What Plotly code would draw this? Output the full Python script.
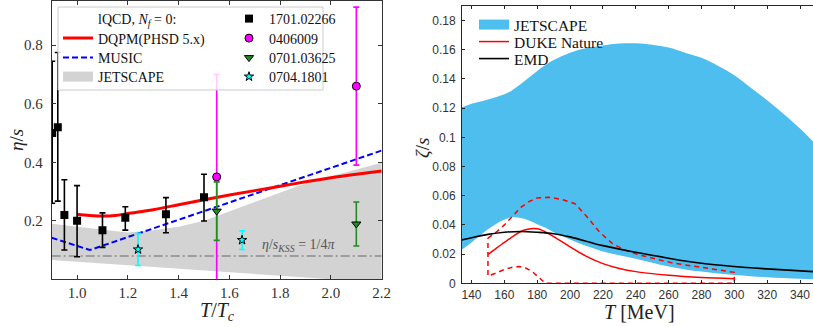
import plotly.graph_objects as go

W, H = 813, 327

# ---------------- left panel data (eta/s vs T/Tc) ----------------
dqpm_x = [1.0, 1.05, 1.1, 1.15, 1.2, 1.3, 1.4, 1.5, 1.6, 1.7, 1.8, 1.9, 2.0, 2.1, 2.2]
dqpm_y = [0.222, 0.218, 0.216, 0.218, 0.225, 0.238, 0.255, 0.272, 0.288, 0.303, 0.318, 0.333, 0.347, 0.359, 0.370]

music_x = [0.9, 0.95, 1.0, 1.05, 2.2]
music_y = [0.142, 0.128, 0.113, 0.100, 0.440]

jet_x = [0.9, 1.0, 1.1, 1.2, 1.3, 1.4, 1.5, 1.6, 1.7, 1.8, 1.9, 2.0, 2.1, 2.2]
jet_hi = [0.190, 0.180, 0.168, 0.160, 0.168, 0.180, 0.200, 0.232, 0.265, 0.298, 0.328, 0.352, 0.376, 0.398]
jet_lo = [0.066, 0.060, 0.054, 0.048, 0.042, 0.036, 0.030, 0.024, 0.018, 0.012, 0.006, 0.0, 0.0, 0.0]

kss_x = [0.9, 2.2]
kss_y = [0.0796, 0.0796]

lqcd_x = [0.902, 0.924, 0.95, 1.0, 1.1, 1.19, 1.35, 1.5]
lqcd_y = [0.50, 0.52, 0.22, 0.20, 0.168, 0.21, 0.222, 0.28]
lqcd_ep = [0.245, 0.255, 0.12, 0.12, 0.059, 0.038, 0.057, 0.079]
lqcd_em = [0.240, 0.253, 0.12, 0.123, 0.059, 0.042, 0.063, 0.081]

mag_x = [1.55, 2.10]
mag_y = [0.35, 0.66]
mag_ep = [0.35, 0.27]
mag_em = [0.36, 0.27]

grn_x = [1.55, 2.10]
grn_y = [0.233, 0.189]
grn_e = [0.10, 0.075]

cyn_x = [1.24, 1.65]
cyn_y = [0.102, 0.134]
cyn_e = [0.055, 0.032]

left_xticks = [1.0, 1.2, 1.4, 1.6, 1.8, 2.0, 2.2]
left_xtext = ["1.0", "1.2", "1.4", "1.6", "1.8", "2.0", "2.2"]
left_yticks = [0.2, 0.4, 0.6, 0.8]
left_ytext = ["0.2", "0.4", "0.6", "0.8"]

# ---------------- right panel data (zeta/s vs T) ----------------
band_T = [134, 140, 150, 160, 165, 170, 175, 180, 185, 190, 200, 210, 220, 230, 240, 250, 260,
          270, 280, 290, 300, 310, 320, 330, 340, 348]
band_hi = [0.1205, 0.123, 0.126, 0.1295, 0.1325, 0.1365, 0.141, 0.1455, 0.1495, 0.153, 0.158,
           0.1612, 0.163, 0.1643, 0.1645, 0.1635, 0.1615, 0.158, 0.1545, 0.149, 0.1425, 0.134,
           0.1255, 0.116, 0.106, 0.097]
band_lo = [0.023, 0.028, 0.037, 0.0437, 0.0452, 0.0447, 0.043, 0.0405, 0.038, 0.035, 0.030,
           0.0255, 0.0218, 0.0192, 0.0168, 0.014, 0.0115, 0.0095, 0.008, 0.0067, 0.0057,
           0.0049, 0.0042, 0.0036, 0.0031, 0.0028]

emd_T = [134, 140, 150, 160, 170, 180, 190, 200, 220, 240, 260, 280, 300, 320, 348]
emd_y = [0.0297, 0.0312, 0.0335, 0.035, 0.0355, 0.035, 0.034, 0.0318, 0.0258, 0.0213,
         0.0172, 0.0137, 0.0115, 0.0099, 0.008]

duke_T = [150, 155, 160, 165, 170, 175, 178, 182, 190, 200, 210, 220, 230, 240, 260, 280, 300]
duke_y = [0.0198, 0.024, 0.028, 0.032, 0.0355, 0.0372, 0.0375, 0.0368, 0.032, 0.025, 0.0185,
          0.0135, 0.0102, 0.008, 0.0055, 0.004, 0.0032]

duke_hi_T = [150, 155, 160, 165, 170, 175, 180, 187, 195, 203, 210, 218, 226, 234, 242, 262, 283, 300]
duke_hi = [0.031, 0.035, 0.040, 0.046, 0.052, 0.056, 0.0585, 0.059, 0.0575, 0.0545, 0.046,
           0.035, 0.027, 0.0225, 0.0195, 0.014, 0.0103, 0.0075]
duke_lo_T = [150, 155, 160, 165, 169, 173, 177, 181, 185, 300]
duke_lo = [0.005, 0.007, 0.0095, 0.011, 0.0115, 0.0105, 0.008, 0.004, 0.0, 0.0]

right_xticks = [140, 160, 180, 200, 220, 240, 260, 280, 300, 320, 340]
right_xtext = ["140", "160", "180", "200", "220", "240", "260", "280", "300", "320", "340"]
right_yticks = [0, 0.02, 0.04, 0.06, 0.08, 0.10, 0.12, 0.14, 0.16, 0.18]
right_ytext = ["0", "0.02", "0.04", "0.06", "0.08", "0.1", "0.12", "0.14", "0.16", "0.18"]

SERIF = "Liberation Serif"
SANS = "Liberation Sans"

fig = go.Figure()

# ---- left panel traces ----
fig.add_trace(go.Scatter(x=jet_x, y=jet_lo, mode="lines", line=dict(width=0),
                         showlegend=False, hoverinfo="skip", xaxis="x", yaxis="y"))
fig.add_trace(go.Scatter(x=jet_x, y=jet_hi, mode="lines", line=dict(width=0),
                         fill="tonexty", fillcolor="#d3d3d3", showlegend=False,
                         xaxis="x", yaxis="y"))
fig.add_trace(go.Scatter(x=kss_x, y=kss_y, mode="lines",
                         line=dict(color="#8c8c8c", width=1.6, dash="9px,3px,2px,3px"),
                         showlegend=False, xaxis="x", yaxis="y"))
fig.add_trace(go.Scatter(x=music_x, y=music_y, mode="lines",
                         line=dict(color="#0000ff", width=2, dash="6px,3px"),
                         showlegend=False, xaxis="x", yaxis="y"))
fig.add_trace(go.Scatter(x=dqpm_x, y=dqpm_y, mode="lines", line=dict(color="#ff0000", width=3),
                         line_shape="spline", showlegend=False, xaxis="x", yaxis="y"))

fig.add_trace(go.Scatter(x=lqcd_x, y=lqcd_y, mode="markers",
                         marker=dict(symbol="square", size=8, color="black"),
                         error_y=dict(type="data", array=lqcd_ep, arrayminus=lqcd_em,
                                      color="black", thickness=1.6, width=3),
                         showlegend=False, xaxis="x", yaxis="y"))
fig.add_trace(go.Scatter(x=mag_x, y=mag_y, mode="markers",
                         marker=dict(symbol="circle", size=8, color="#ff00ff",
                                     line=dict(color="black", width=1)),
                         error_y=dict(type="data", array=mag_ep, arrayminus=mag_em,
                                      color="#ff00ff", thickness=1.6, width=3),
                         showlegend=False, xaxis="x", yaxis="y"))
fig.add_trace(go.Scatter(x=grn_x, y=grn_y, mode="markers",
                         marker=dict(symbol="triangle-down", size=8, color="#228b22",
                                     line=dict(color="black", width=1)),
                         error_y=dict(type="data", array=grn_e, color="#228b22",
                                      thickness=1.6, width=3),
                         showlegend=False, xaxis="x", yaxis="y"))
fig.add_trace(go.Scatter(x=cyn_x, y=cyn_y, mode="markers",
                         marker=dict(symbol="star", size=7, color="#00ffff",
                                     line=dict(color="black", width=1)),
                         error_y=dict(type="data", array=cyn_e, color="#00ffff",
                                      thickness=1.6, width=3),
                         showlegend=False, xaxis="x", yaxis="y"))

# ---- right panel traces ----
fig.add_trace(go.Scatter(x=band_T, y=band_lo, mode="lines", line=dict(width=0, shape="spline"),
                         showlegend=False, hoverinfo="skip", xaxis="x2", yaxis="y2"))
fig.add_trace(go.Scatter(x=band_T, y=band_hi, mode="lines", line=dict(width=0, shape="spline"),
                         fill="tonexty", fillcolor="#4dbeee", showlegend=False,
                         xaxis="x2", yaxis="y2"))
dash_x = duke_hi_T + duke_lo_T[::-1] + duke_hi_T[:1]
dash_y = duke_hi + duke_lo[::-1] + duke_hi[:1]
fig.add_trace(go.Scatter(x=dash_x, y=dash_y, mode="lines",
                         line=dict(color="#ff0000", width=1.5, dash="5px,4px"),
                         showlegend=False, xaxis="x2", yaxis="y2"))
fig.add_trace(go.Scatter(x=duke_T, y=duke_y, mode="lines",
                         line=dict(color="#ff0000", width=1.5, shape="spline"),
                         showlegend=False, xaxis="x2", yaxis="y2"))
fig.add_trace(go.Scatter(x=emd_T, y=emd_y, mode="lines",
                         line=dict(color="black", width=1.6, shape="spline"),
                         showlegend=False, xaxis="x2", yaxis="y2"))

# ---- legend entries (one legend per entry for exact placement) ----
def px2paper_x(px):
    return px / W

def px2paper_y(py):
    return 1 - py / H

legend_specs = []

def legend_entry(name, trace_kwargs, lx, ly, size, key):
    fig.add_trace(go.Scatter(x=[None], y=[None], name=name, legend=key,
                             showlegend=True, xaxis="x", yaxis="y", **trace_kwargs))
    legend_specs.append((key, lx, ly, size))

# left panel, column 1
legend_entry("lQCD, <i>N</i><sub><i>f</i></sub> = 0:", dict(mode="lines", line=dict(color="rgba(0,0,0,0)")),
             58, 19, 14, "legend")
legend_entry("DQPM(PHSD 5.x)", dict(mode="lines", line=dict(color="#ff0000", width=3)),
             58, 38.5, 14, "legend2")
legend_entry("MUSIC", dict(mode="lines", line=dict(color="#0000ff", width=2, dash="6px,3px")),
             58, 58, 14, "legend3")
legend_entry("JETSCAPE", dict(mode="lines", line=dict(color="#d3d3d3", width=10)),
             58, 77, 14, "legend4")
# left panel, column 2
legend_entry("1701.02266", dict(mode="markers", marker=dict(symbol="square", size=8, color="black")),
             229, 19, 14, "legend5")
legend_entry("0406009", dict(mode="markers", marker=dict(symbol="circle", size=8, color="#ff00ff",
                                                           line=dict(color="black", width=1))),
             229, 38.5, 14, "legend6")
legend_entry("0701.03625", dict(mode="markers", marker=dict(symbol="triangle-down", size=8, color="#228b22",
                                                              line=dict(color="black", width=1))),
             229, 58, 14, "legend7")
legend_entry("0704.1801", dict(mode="markers", marker=dict(symbol="star", size=7, color="#00ffff",
                                                             line=dict(color="black", width=1))),
             229, 77, 14, "legend8")
# right panel
legend_entry("JETSCAPE", dict(mode="lines", line=dict(color="#4dbeee", width=13)),
             474, 25, 15.5, "legend9")
legend_entry("DUKE Nature", dict(mode="lines", line=dict(color="#ff0000", width=1.5)),
             474, 42, 15.5, "legend10")
legend_entry("EMD", dict(mode="lines", line=dict(color="black", width=1.6)),
             474, 59, 15.5, "legend11")

layout_legends = {}
for key, lx, ly, size in legend_specs:
    layout_legends[key] = dict(x=px2paper_x(lx), y=px2paper_y(ly), xanchor="left", yanchor="middle",
                               bgcolor="rgba(0,0,0,0)", borderwidth=0,
                               font=dict(family=SERIF, size=size, color="#111"))

fig.update_layout(
    width=W, height=H,
    margin=dict(l=0, r=0, t=0, b=0, pad=0),
    paper_bgcolor="white", plot_bgcolor="white",
    **layout_legends,
    xaxis=dict(domain=[51.7 / W, 381.7 / W], range=[0.9, 2.2], anchor="y", automargin=False,
               tickvals=left_xticks, ticktext=left_xtext, ticks="inside", ticklen=4,
               tickcolor="#333", showline=True, linecolor="#333", linewidth=1, mirror="ticks",
               showgrid=False, zeroline=False,
               tickfont=dict(family=SERIF, size=15, color="#333")),
    yaxis=dict(domain=[(H - 279.3) / H, (H - 1.3) / H], range=[0, 0.95], anchor="x", automargin=False,
               tickvals=left_yticks, ticktext=left_ytext, ticks="inside", ticklen=4,
               tickcolor="#333", showline=True, linecolor="#333", linewidth=1, mirror="ticks",
               showgrid=False, zeroline=False, ticklabelstandoff=5,
               tickfont=dict(family=SERIF, size=15, color="#333")),
    xaxis2=dict(domain=[462 / W, 1.0], range=[134.2, 347.9], anchor="y2", automargin=False,
                tickvals=right_xticks, ticktext=right_xtext, ticks="inside", ticklen=3,
                tickcolor="#262626", showline=True, linecolor="#262626", linewidth=1, mirror="ticks",
                showgrid=False, zeroline=False,
                tickfont=dict(family=SANS, size=12, color="#333")),
    yaxis2=dict(domain=[(H - 283.3) / H, (H - 6) / H], range=[0, 0.19], anchor="x2", automargin=False,
                tickvals=right_yticks, ticktext=right_ytext, ticks="inside", ticklen=3,
                tickcolor="#262626", showline=True, linecolor="#262626", linewidth=1,
                showgrid=False, zeroline=False, ticklabelstandoff=3,
                tickfont=dict(family=SANS, size=12, color="#333")),
    shapes=[dict(type="rect", xref="paper", yref="paper",
                 x0=58 / W, x1=323 / W, y0=1 - 90 / H, y1=1 - 7 / H,
                 fillcolor="rgba(255,255,255,0.8)", line=dict(color="#cccccc", width=1),
                 layer="above")],
    annotations=[
        dict(text="<i>T</i>/<i>T</i><sub><i>c</i></sub>", x=217 / W, y=1 - 311 / H, xref="paper", yref="paper",
             xanchor="center", yanchor="middle",
             showarrow=False, font=dict(family=SERIF, size=20, color="#222")),
        dict(text="<i>η</i>/<i>s</i>", x=17 / W, y=1 - 140 / H, xref="paper", yref="paper",
             xanchor="center", yanchor="middle",
             showarrow=False, textangle=-90, font=dict(family=SERIF, size=19, color="#222")),
        dict(text="<i>η</i>/<i>s</i><sub><i>KSS</i></sub> = 1/4<i>π</i>", x=1.872, y=0.117,
             xref="x", yref="y", xanchor="center", yanchor="middle",
             showarrow=False, font=dict(family=SERIF, size=14, color="#555")),
        dict(text="<i>T</i> [MeV]", x=639 / W, y=1 - 312 / H, xref="paper", yref="paper",
             xanchor="center", yanchor="middle",
             showarrow=False, font=dict(family=SERIF, size=20, color="#222")),
        dict(text="<i>ζ</i>/<i>s</i>", x=422 / W, y=1 - 148 / H, xref="paper", yref="paper",
             xanchor="center", yanchor="middle",
             showarrow=False, textangle=-90, font=dict(family=SERIF, size=19, color="#222")),
    ],
)

fig.write_html("out.html")
